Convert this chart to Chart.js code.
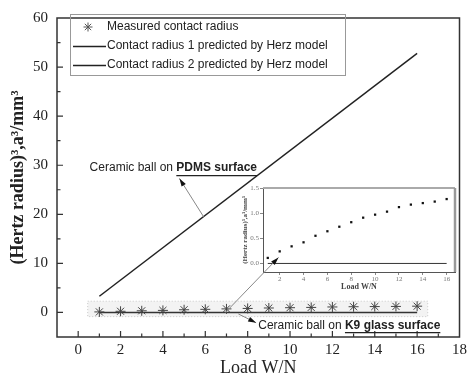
<!DOCTYPE html>
<html>
<head>
<meta charset="utf-8">
<script src="https://cdn.jsdelivr.net/npm/chart.js@4.4.0/dist/chart.umd.min.js"></script>
<style>
  body { margin: 0; background: #fff; }
  #wrap { position: relative; width: 471px; height: 379px; }
  #mainChart { position: absolute; left: 0; top: 0; z-index: 2; }
  #insetChart { position: absolute; left: 236px; top: 182px; z-index: 1; }
</style>
</head>
<body>
<div id="wrap">
  <canvas id="insetChart" width="224" height="112"></canvas>
  <canvas id="mainChart" width="471" height="379"></canvas>
</div>
<script>
// measured data (load in N, a^3 in mm^3)
var loads = [1, 2, 3, 4, 5, 6, 7, 8, 9, 10, 11, 12, 13, 14, 15, 16];
var measured = [0.11, 0.24, 0.34, 0.42, 0.55, 0.64, 0.73, 0.82, 0.91, 0.97, 1.03, 1.12, 1.17, 1.20, 1.23, 1.28];
// Herz model lines (end points)
var herzLoads = [1, 16];
var herz1 = [3.3, 52.8];
var herz2 = [0, 0];

var xTicks = [0, 1, 2, 3, 4, 5, 6, 7, 8, 9, 10, 11, 12, 13, 14, 15, 16, 17, 18];
var yTicks = [0, 5, 10, 15, 20, 25, 30, 35, 40, 45, 50, 55, 60];
var insetXTicks = [2, 4, 6, 8, 10, 12, 14, 16];
var insetYTicks = [0, 0.5, 1.0, 1.5];

var serif = '"Liberation Serif", "Times New Roman", serif';
var sans = '"Liberation Sans", Arial, sans-serif';

function pts(xs, ys) {
    return xs.map(function (x, i) { return { x: x, y: ys[i] }; });
}

function drawArrow(ctx, x1, y1, x2, y2) {
    ctx.save();
    ctx.strokeStyle = '#888';
    ctx.lineWidth = 1;
    ctx.beginPath();
    ctx.moveTo(x1, y1);
    ctx.lineTo(x2, y2);
    ctx.stroke();
    var a = Math.atan2(y2 - y1, x2 - x1);
    ctx.fillStyle = '#111';
    ctx.beginPath();
    ctx.moveTo(x2, y2);
    ctx.lineTo(x2 - 8 * Math.cos(a) + 2.5 * Math.sin(a), y2 - 8 * Math.sin(a) - 2.5 * Math.cos(a));
    ctx.lineTo(x2 - 8 * Math.cos(a) - 2.5 * Math.sin(a), y2 - 8 * Math.sin(a) + 2.5 * Math.cos(a));
    ctx.closePath();
    ctx.fill();
    ctx.restore();
}

function drawNote(ctx, x, y, plain, bold) {
    ctx.save();
    ctx.textBaseline = 'middle';
    ctx.textAlign = 'left';
    ctx.fillStyle = '#222';
    ctx.font = '12px ' + sans;
    ctx.fillText(plain, x, y);
    var w = ctx.measureText(plain).width;
    ctx.font = 'bold 12px ' + sans;
    ctx.fillText(bold, x + w, y);
    var bw = ctx.measureText(bold).width;
    ctx.strokeStyle = '#222';
    ctx.lineWidth = 1.3;
    ctx.beginPath();
    ctx.moveTo(x + w, y + 7.5);
    ctx.lineTo(x + w + bw, y + 7.5);
    ctx.stroke();
    ctx.restore();
}

function drawStar(ctx, x, y, r) {
    ctx.beginPath();
    for (var k = 0; k < 4; k++) {
        var a = k * Math.PI / 4;
        ctx.moveTo(x - r * Math.cos(a), y - r * Math.sin(a));
        ctx.lineTo(x + r * Math.cos(a), y + r * Math.sin(a));
    }
    ctx.stroke();
}

// inset chart first, the main chart draws the pointer line into it
var insetChart = new Chart(document.getElementById('insetChart').getContext('2d'), {
    type: 'scatter',
    data: {
        datasets: [
            {
                label: 'Measured',
                data: pts(loads, measured),
                pointStyle: 'rect',
                pointRadius: 1.6,
                backgroundColor: '#111',
                borderColor: '#111',
                borderWidth: 0
            },
            {
                label: 'Herz 2',
                data: pts(herzLoads, herz2),
                showLine: true,
                borderColor: '#333',
                borderWidth: 1,
                pointRadius: 0
            }
        ]
    },
    options: {
        responsive: false,
        animation: false,
        layout: { padding: { top: 6, right: 5, left: 0, bottom: 0 } },
        plugins: { legend: { display: false }, tooltip: { enabled: false } },
        scales: {
            x: {
                type: 'linear',
                min: 0.6,
                max: 16.7,
                afterBuildTicks: function (s) { s.ticks = insetXTicks.map(function (v) { return { value: v }; }); },
                afterFit: function (s) { s.height = 22; },
                ticks: { color: '#777', font: { family: serif, size: 7 }, padding: 0, autoSkip: false, maxRotation: 0 },
                grid: { drawOnChartArea: false, tickLength: 3, color: '#888' },
                border: { color: '#555', width: 1 },
                title: { display: true, text: 'Load W/N', color: '#444', font: { family: serif, size: 8, weight: 'bold' }, padding: { top: 0, bottom: 2 } }
            },
            y: {
                type: 'linear',
                min: -0.17,
                max: 1.5,
                afterBuildTicks: function (s) { s.ticks = insetYTicks.map(function (v) { return { value: v }; }); },
                afterFit: function (s) { s.width = 27; },
                ticks: { color: '#777', font: { family: serif, size: 7 }, padding: 1, callback: function (v) { return v.toFixed(1); } },
                grid: { drawOnChartArea: false, tickLength: 3, color: '#888' },
                border: { color: '#555', width: 1 },
                title: { display: true, text: '(Hertz radius)³,a³/mm³', color: '#444', font: { family: serif, size: 7, weight: 'bold' }, padding: { top: 5, bottom: 0 } }
            }
        }
    },
    plugins: [{
        id: 'insetFrame',
        beforeDraw: function (chart) {
            var ctx = chart.ctx;
            ctx.save();
            ctx.fillStyle = '#fff';
            ctx.fillRect(0, 0, chart.width, chart.height);
            ctx.restore();
        },
        afterDraw: function (chart) {
            var ctx = chart.ctx, a = chart.chartArea;
            ctx.save();
            ctx.strokeStyle = '#aaa';
            ctx.lineWidth = 2;
            ctx.beginPath();
            ctx.moveTo(a.left, a.top);
            ctx.lineTo(a.right, a.top);
            ctx.stroke();
            ctx.strokeStyle = '#999';
            ctx.lineWidth = 2.5;
            ctx.beginPath();
            ctx.moveTo(a.right, a.top);
            ctx.lineTo(a.right, a.bottom);
            ctx.stroke();
            ctx.restore();
        }
    }]
});

var mainPlugin = {
    id: 'mainDecor',
    beforeDatasetsDraw: function (chart) {
        var ctx = chart.ctx, x = chart.scales.x, y = chart.scales.y;
        // light band behind the measured points
        var l = x.getPixelForValue(0.45), r = x.getPixelForValue(16.5);
        var t = y.getPixelForValue(2.3), b = y.getPixelForValue(-0.85);
        ctx.save();
        ctx.fillStyle = '#f3f3f3';
        ctx.fillRect(l, t, r - l, b - t);
        ctx.strokeStyle = '#c8c8c8';
        ctx.setLineDash([1, 2]);
        ctx.strokeRect(l, t, r - l, b - t);
        ctx.restore();
    },
    afterDraw: function (chart) {
        var ctx = chart.ctx, a = chart.chartArea, x = chart.scales.x, y = chart.scales.y;
        ctx.save();
        // frame
        ctx.strokeStyle = '#333';
        ctx.lineWidth = 1.5;
        ctx.strokeRect(a.left, a.top, a.right - a.left, a.bottom - a.top);
        // inward ticks
        ctx.lineWidth = 1.2;
        ctx.beginPath();
        xTicks.forEach(function (v) {
            if (v <= x.min || v >= x.max) return;
            var px = x.getPixelForValue(v);
            var len = v % 2 === 0 ? 6 : 3.5;
            ctx.moveTo(px, a.bottom);
            ctx.lineTo(px, a.bottom - len);
        });
        yTicks.forEach(function (v) {
            if (v <= y.min || v >= y.max) return;
            var py = y.getPixelForValue(v);
            var len = v % 10 === 0 ? 6 : 3.5;
            ctx.moveTo(a.left, py);
            ctx.lineTo(a.left + len, py);
        });
        ctx.stroke();

        // legend
        var ds = chart.data.datasets;
        ctx.strokeStyle = '#999';
        ctx.lineWidth = 1;
        ctx.strokeRect(70.5, 14.5, 275, 61);
        ctx.font = '12px ' + sans;
        ctx.fillStyle = '#222';
        ctx.textBaseline = 'middle';
        ctx.textAlign = 'left';
        ctx.strokeStyle = '#555';
        drawStar(ctx, 88, 27, 4.5);
        ctx.fillText(ds[0].label, 107, 27);
        ctx.strokeStyle = ds[1].borderColor;
        ctx.lineWidth = 1.3;
        ctx.beginPath();
        ctx.moveTo(73, 46.5); ctx.lineTo(106, 46.5);
        ctx.moveTo(73, 65.5); ctx.lineTo(106, 65.5);
        ctx.stroke();
        ctx.fillText(ds[1].label, 107, 46);
        ctx.fillText(ds[2].label, 107, 65);
        ctx.restore();

        // annotations
        drawNote(ctx, x.getPixelForValue(0.54), y.getPixelForValue(29.4), 'Ceramic ball on ', 'PDMS surface');
        drawArrow(ctx, x.getPixelForValue(5.92), y.getPixelForValue(19.5), x.getPixelForValue(4.78), y.getPixelForValue(27.3));
        drawNote(ctx, x.getPixelForValue(8.5), y.getPixelForValue(-2.6), 'Ceramic ball on ', 'K9 glass surface');
        drawArrow(ctx, x.getPixelForValue(7.56), y.getPixelForValue(-0.3), x.getPixelForValue(8.4), y.getPixelForValue(-2.1));

        // pointer from the measured band into the inset
        var cv = document.getElementById('insetChart');
        var ix = insetChart.scales.x.getPixelForValue(1.9) + cv.offsetLeft;
        var iy = insetChart.scales.y.getPixelForValue(0.12) + cv.offsetTop;
        drawArrow(ctx, x.getPixelForValue(6.95), y.getPixelForValue(0), ix, iy);
    }
};

var mainChart = new Chart(document.getElementById('mainChart').getContext('2d'), {
    type: 'scatter',
    data: {
        datasets: [
            {
                label: 'Measured contact radius',
                data: pts(loads, measured),
                pointStyle: 'star',
                pointRadius: 5,
                borderColor: '#444',
                borderWidth: 1,
                backgroundColor: 'rgba(0,0,0,0)'
            },
            {
                label: 'Contact radius 1 predicted by Herz model',
                data: pts(herzLoads, herz1),
                showLine: true,
                borderColor: '#222',
                borderWidth: 1.5,
                pointRadius: 0
            },
            {
                label: 'Contact radius 2 predicted by Herz model',
                data: pts(herzLoads, herz2),
                showLine: true,
                borderColor: '#333',
                borderWidth: 1.5,
                pointRadius: 0
            }
        ]
    },
    options: {
        responsive: false,
        animation: false,
        layout: { padding: { top: 8, right: 8, left: 0, bottom: 0 } },
        plugins: { legend: { display: false }, tooltip: { enabled: false } },
        scales: {
            x: {
                type: 'linear',
                min: -1,
                max: 18,
                afterBuildTicks: function (s) { s.ticks = xTicks.map(function (v) { return { value: v }; }); },
                afterFit: function (s) { s.height = 42; },
                ticks: {
                    color: '#222',
                    font: { family: serif, size: 15 },
                    padding: 4,
                    autoSkip: false,
                    maxRotation: 0,
                    callback: function (v) { return v % 2 === 0 ? String(v) : ''; }
                },
                grid: { display: false, drawTicks: false },
                border: { display: false },
                title: { display: true, text: 'Load W/N', color: '#222', font: { family: serif, size: 18 }, padding: { top: 0, bottom: 0 } }
            },
            y: {
                type: 'linear',
                min: -5,
                max: 60,
                afterBuildTicks: function (s) { s.ticks = yTicks.map(function (v) { return { value: v }; }); },
                afterFit: function (s) { s.width = 57; },
                ticks: {
                    color: '#222',
                    font: { family: serif, size: 15 },
                    padding: 9,
                    callback: function (v) { return v % 10 === 0 ? String(v) : ''; }
                },
                grid: { display: false, drawTicks: false },
                border: { display: false },
                title: { display: true, text: '(Hertz radius)³,a³/mm³', color: '#222', font: { family: serif, size: 18, weight: 'bold' }, padding: { top: 8, bottom: 0 } }
            }
        }
    },
    plugins: [mainPlugin]
});
</script>
</body>
</html>
